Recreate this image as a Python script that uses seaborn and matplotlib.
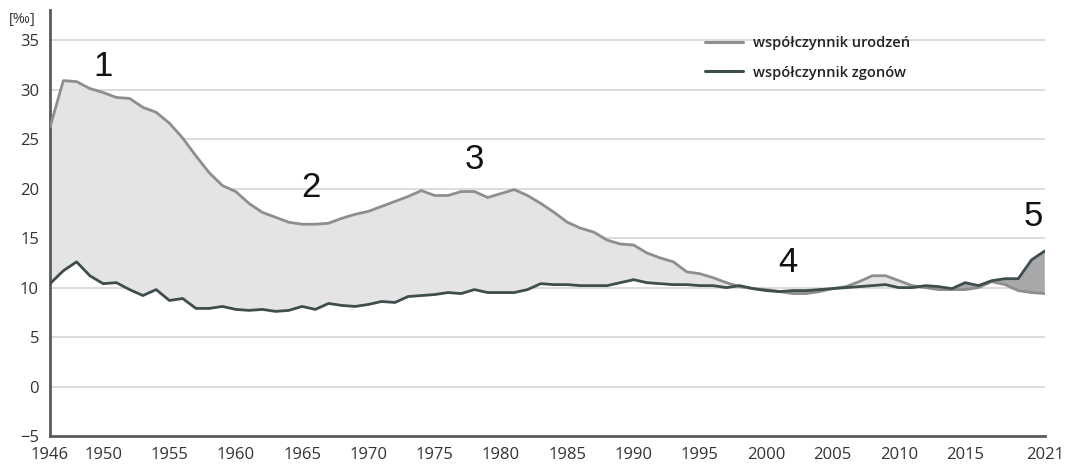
import numpy as np
import pandas as pd
import matplotlib
matplotlib.use("Agg")
import matplotlib.pyplot as plt
import seaborn as sns

# lata 1946-2021
years = list(range(1946, 2022))

# wspolczynnik urodzen [promile]
births = [26.2, 30.9, 30.8, 30.1, 29.7, 29.2, 29.1, 28.2, 27.7, 26.6,
          25.1, 23.3, 21.6, 20.3, 19.7, 18.5, 17.6, 17.1, 16.6, 16.4,
          16.4, 16.5, 17.0, 17.4, 17.7, 18.2, 18.7, 19.2, 19.8, 19.3,
          19.3, 19.7, 19.7, 19.1, 19.5, 19.9, 19.3, 18.5, 17.6, 16.6,
          16.0, 15.6, 14.8, 14.4, 14.3, 13.5, 13.0, 12.6, 11.6, 11.4,
          11.0, 10.5, 10.1, 9.9, 9.8, 9.6, 9.4, 9.4, 9.6, 9.9,
          10.1, 10.6, 11.2, 11.2, 10.7, 10.2, 10.0, 9.8, 9.8, 9.8,
          10.0, 10.6, 10.3, 9.7, 9.5, 9.4]

# wspolczynnik zgonow [promile]
deaths = [10.4, 11.7, 12.6, 11.2, 10.4, 10.5, 9.8, 9.2, 9.8, 8.7,
          8.9, 7.9, 7.9, 8.1, 7.8, 7.7, 7.8, 7.6, 7.7, 8.1,
          7.8, 8.4, 8.2, 8.1, 8.3, 8.6, 8.5, 9.1, 9.2, 9.3,
          9.5, 9.4, 9.8, 9.5, 9.5, 9.5, 9.8, 10.4, 10.3, 10.3,
          10.2, 10.2, 10.2, 10.5, 10.8, 10.5, 10.4, 10.3, 10.3, 10.2,
          10.2, 10.0, 10.2, 9.9, 9.7, 9.6, 9.7, 9.7, 9.8, 9.9,
          10.0, 10.1, 10.2, 10.3, 10.0, 10.0, 10.2, 10.1, 9.9, 10.5,
          10.2, 10.7, 10.9, 10.9, 12.8, 13.7]

x_ticks = [1946, 1950, 1955, 1960, 1965, 1970, 1975, 1980, 1985, 1990,
           1995, 2000, 2005, 2010, 2015, 2021]
y_ticks = [-5, 0, 5, 10, 15, 20, 25, 30, 35]

# numery etapow i ich polozenie
stage_labels = ["1", "2", "3", "4", "5"]
stage_x = [1950, 1965.7, 1978, 2001.6, 2020.1]
stage_y = [32.3, 20.1, 22.9, 12.5, 17.2]

df = pd.DataFrame({"rok": years,
                   "współczynnik urodzeń": births,
                   "współczynnik zgonów": deaths})
long = df.melt(id_vars="rok", var_name="seria", value_name="wartosc")

sns.set_style("white")
plt.rcParams["font.family"] = ["Open Sans", "DejaVu Sans"]
plt.rcParams["lines.solid_joinstyle"] = "round"
plt.rcParams["lines.solid_capstyle"] = "round"

fig = plt.figure(figsize=(10.65, 4.68), dpi=100)
ax = fig.add_axes([0.047, 0.068, 0.934, 0.91])

b = np.array(births)
d = np.array(deaths)
ax.fill_between(years, b, d, where=b >= d, interpolate=True,
                color="#e4e4e4", lw=0, zorder=1)
ax.fill_between(years, b, d, where=b < d, interpolate=True,
                color="#a8a8aa", lw=0, zorder=1)

sns.lineplot(data=long, x="rok", y="wartosc", hue="seria",
             palette={"współczynnik urodzeń": "#8e8e8e",
                      "współczynnik zgonów": "#3e4d4d"},
             linewidth=2.0, ax=ax, zorder=3)

ax.set_xlim(1946, 2021)
ax.set_ylim(-5, 38)
ax.set_xticks(x_ticks)
ax.set_yticks(y_ticks)
ax.set_yticklabels(["−5" if v < 0 else str(v) for v in y_ticks])
ax.set_xlabel("")
ax.set_ylabel("")

for v in y_ticks[1:]:
    ax.axhline(v, color="#dcdcdc", lw=1.4, zorder=0)

for s in ["top", "right"]:
    ax.spines[s].set_visible(False)
for s in ["left", "bottom"]:
    ax.spines[s].set_color("#5a5a5a")
    ax.spines[s].set_linewidth(2)

ax.tick_params(axis="x", direction="out", length=6, width=1.5,
               color="#444444", labelsize=12, labelcolor="#333333", pad=2)
ax.tick_params(axis="y", length=0, labelsize=12, labelcolor="#333333", pad=8)

fig.text(0.008, 0.958, "[‰]", fontsize=10.5, color="#333333",
         ha="left", va="center")

for lab, xx, yy in zip(stage_labels, stage_x, stage_y):
    ax.text(xx, yy, lab, fontsize=25, ha="center", va="center",
            family=["Liberation Sans", "DejaVu Sans"], color="#111111")

leg = ax.legend(loc="upper left", bbox_to_anchor=(0.645, 0.97), frameon=False,
                fontsize=10.5, handlelength=2.6, handletextpad=0.7,
                labelspacing=1.05)
for line in leg.get_lines():
    line.set_linewidth(2.2)
for t in leg.get_texts():
    t.set_color("#222222")
    t.set_fontweight("semibold")

fig.savefig("out.png", dpi=100)
